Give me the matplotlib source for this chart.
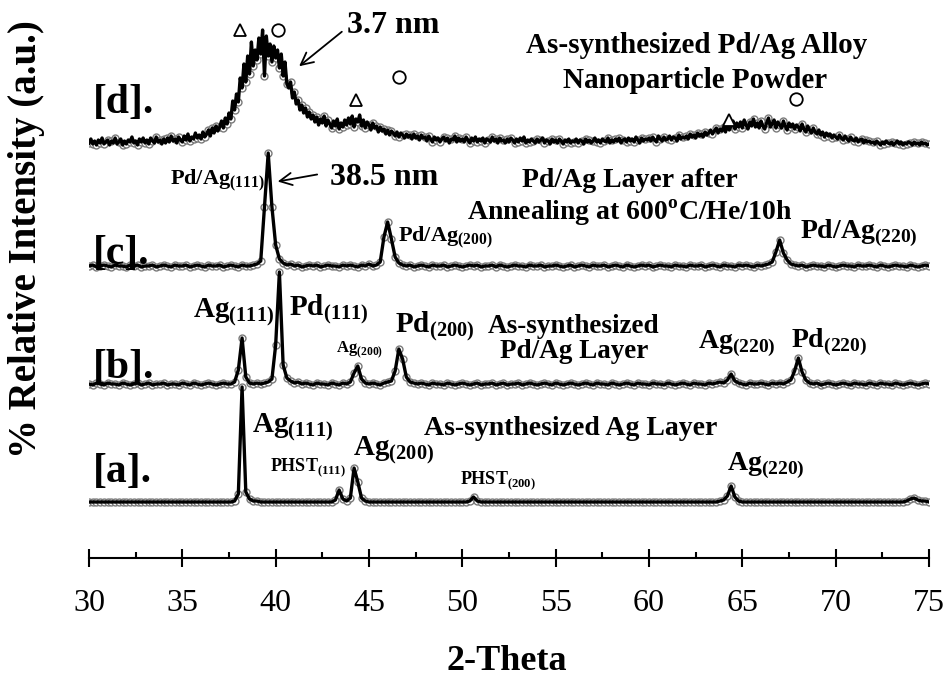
import numpy as np
import matplotlib
matplotlib.use("Agg")
import matplotlib.pyplot as plt

plt.rcParams["font.family"] = ["Liberation Serif", "DejaVu Serif"]
plt.rcParams["mathtext.fontset"] = "custom"
plt.rcParams["mathtext.rm"] = "Liberation Serif:bold"
plt.rcParams["mathtext.bf"] = "Liberation Serif:bold"

# 2-theta scans: layers at 0.2 deg step, powder at 0.1 deg step
two_theta = np.round(np.arange(30.0, 75.0001, 0.2), 1)
two_theta_fine = np.round(np.arange(30.0, 75.0001, 0.1), 1)

# [a] as-synthesized Ag layer
int_a = [
    0, 0, 0, 0, 0, 0, 0, 0, 0, 0,
    0, 0, 0, 0, 0, 0, 0, 0, 0, 0,
    0, 0, 0, 0, 0, 0, 0, 0, 0, 0,
    0, 0, 0, 0, 0, 0, 0, 0, 0, 1,
    8, 115, 10, 3, 1, 1, 0, 0, 0, 0,
    0, 0, 0, 0, 0, 0, 0, 0, 0, 0,
    0, 0, 0, 0, 0, 0, 2, 12, 3, 1,
    4, 34, 20, 4, 1, 0, 0, 0, 0, 0,
    0, 0, 0, 0, 0, 0, 0, 0, 0, 0,
    0, 0, 0, 0, 0, 0, 0, 0, 0, 0,
    0, 0, 1, 5, 1, 0, 0, 0, 0, 0,
    0, 0, 0, 0, 0, 0, 0, 0, 0, 0,
    0, 0, 0, 0, 0, 0, 0, 0, 0, 0,
    0, 0, 0, 0, 0, 0, 0, 0, 0, 0,
    0, 0, 0, 0, 0, 0, 0, 0, 0, 0,
    0, 0, 0, 0, 0, 0, 0, 0, 0, 0,
    0, 0, 0, 0, 0, 0, 0, 0, 0, 1,
    2, 6, 16, 5, 1, 0, 0, 0, 0, 0,
    0, 0, 0, 0, 0, 0, 0, 0, 0, 0,
    0, 0, 0, 0, 0, 0, 0, 0, 0, 0,
    0, 0, 0, 0, 0, 0, 0, 0, 0, 0,
    0, 0, 0, 0, 0, 0, 0, 0, 0, 1,
    3, 4, 2, 1, 1, 0,
]

# [b] as-synthesized Pd/Ag layer
int_b = [
    1, 0, 2, 1, 0, 2, 1, 1, 0, 2,
    1, 0, 1, 2, 0, 1, 2, 0, 1, 1,
    2, 0, 1, 1, 0, 2, 1, 0, 2, 1,
    0, 1, 2, 1, 0, 1, 2, 1, 1, 3,
    15, 47, 8, 2, 1, 2, 1, 2, 3, 6,
    40, 113, 20, 7, 4, 2, 3, 1, 2, 1,
    0, 2, 1, 1, 0, 2, 1, 0, 2, 1,
    3, 12, 19, 6, 2, 1, 2, 1, 0, 2,
    3, 4, 14, 36, 26, 8, 3, 2, 1, 2,
    1, 0, 2, 1, 1, 0, 2, 1, 0, 1,
    2, 1, 0, 1, 2, 0, 1, 1, 2, 0,
    1, 2, 0, 1, 1, 2, 0, 1, 2, 1,
    0, 1, 2, 1, 0, 2, 1, 0, 1, 2,
    1, 0, 1, 2, 1, 0, 2, 1, 1, 0,
    2, 1, 0, 1, 2, 1, 0, 2, 1, 1,
    0, 2, 1, 1, 0, 2, 1, 0, 1, 2,
    1, 0, 2, 1, 1, 0, 2, 1, 2, 3,
    2, 5, 11, 4, 2, 1, 0, 2, 1, 1,
    2, 1, 0, 2, 1, 2, 1, 3, 5, 14,
    27, 13, 5, 2, 1, 2, 0, 1, 2, 1,
    0, 1, 2, 1, 0, 2, 1, 1, 0, 2,
    1, 0, 2, 1, 1, 0, 2, 1, 0, 1,
    2, 1, 0, 1, 2, 1,
]

# [c] Pd/Ag layer after annealing
int_c = [
    1, 2, 0, 1, 2, 1, 0, 2, 1, 1,
    0, 2, 1, 2, 0, 1, 1, 2, 0, 1,
    2, 1, 0, 2, 1, 1, 2, 0, 1, 2,
    1, 0, 2, 1, 1, 2, 0, 1, 2, 1,
    0, 2, 1, 1, 2, 3, 6, 60, 114, 60,
    22, 8, 4, 2, 3, 1, 2, 0, 1, 2,
    1, 2, 0, 1, 2, 1, 1, 0, 2, 1,
    2, 1, 0, 2, 1, 3, 1, 2, 5, 30,
    45, 28, 10, 4, 2, 1, 2, 0, 1, 2,
    1, 0, 2, 1, 1, 2, 0, 1, 2, 1,
    0, 1, 2, 1, 2, 0, 1, 1, 2, 0,
    2, 1, 0, 1, 2, 1, 1, 0, 2, 1,
    1, 2, 0, 1, 1, 2, 1, 0, 1, 2,
    0, 1, 2, 1, 0, 2, 1, 1, 2, 0,
    1, 2, 1, 0, 2, 1, 0, 1, 2, 1,
    2, 0, 1, 2, 1, 1, 0, 2, 1, 1,
    0, 2, 1, 1, 2, 0, 1, 2, 1, 0,
    2, 1, 1, 0, 2, 1, 2, 1, 0, 2,
    1, 2, 3, 5, 15, 27, 14, 7, 3, 2,
    1, 2, 0, 1, 2, 1, 1, 0, 2, 1,
    0, 1, 2, 1, 1, 0, 2, 1, 1, 2,
    1, 0, 2, 1, 0, 1, 2, 1, 1, 0,
    2, 1, 0, 1, 2, 1,
]

# [d] as-synthesized Pd/Ag alloy nanoparticle powder (0.1 deg step)
int_d = [
    3, 7, 2, 5, 1, 6, 3, 8, 2, 4,
    6, 1, 5, 3, 8, 2, 4, 7, 1, 5,
    2, 6, 4, 9, 3, 5, 1, 7, 4, 8,
    3, 6, 2, 8, 5, 3, 9, 4, 6, 2,
    7, 3, 8, 4, 10, 5, 7, 3, 9, 6,
    4, 10, 6, 12, 5, 9, 7, 13, 8, 11,
    7, 14, 9, 12, 16, 10, 18, 13, 20, 15,
    19, 25, 18, 28, 22, 33, 27, 45, 36, 52,
    44, 68, 58, 82, 64, 90, 72, 104, 80, 96,
    86, 108, 92, 116, 70, 110, 90, 102, 84, 100,
    88, 96, 78, 92, 70, 84, 62, 58, 64, 48,
    54, 42, 46, 36, 41, 33, 38, 29, 34, 27,
    31, 24, 29, 21, 27, 23, 30, 20, 26, 22,
    18, 25, 20, 27, 17, 23, 19, 26, 21, 28,
    22, 30, 19, 27, 24, 31, 20, 26, 18, 24,
    21, 16, 23, 18, 20, 14, 19, 15, 17, 12,
    16, 11, 15, 13, 10, 14, 9, 13, 11, 8,
    12, 9, 11, 7, 12, 8, 10, 6, 11, 8,
    9, 5, 10, 7, 4, 9, 6, 8, 4, 7,
    9, 5, 8, 3, 7, 6, 10, 4, 8, 5,
    7, 4, 9, 6, 3, 8, 5, 9, 4, 7,
    5, 8, 3, 7, 6, 4, 9, 5, 7, 3,
    8, 5, 6, 3, 7, 4, 8, 6, 3, 7,
    4, 8, 5, 9, 3, 6, 4, 7, 5, 3,
    7, 4, 6, 8, 3, 6, 5, 2, 7, 4,
    6, 3, 7, 5, 2, 6, 4, 7, 3, 5,
    4, 7, 3, 6, 5, 2, 7, 4, 6, 3,
    5, 8, 4, 6, 3, 7, 5, 4, 8, 3,
    6, 4, 7, 5, 8, 3, 6, 7, 4, 8,
    5, 7, 4, 9, 6, 3, 8, 5, 7, 6,
    8, 5, 9, 6, 4, 10, 7, 5, 9, 6,
    7, 10, 6, 9, 8, 5, 11, 7, 9, 8,
    10, 7, 12, 9, 11, 8, 13, 10, 12, 9,
    14, 11, 13, 16, 12, 15, 18, 13, 17, 15,
    19, 14, 22, 16, 20, 25, 17, 23, 19, 24,
    18, 26, 21, 17, 24, 20, 27, 19, 23, 18,
    25, 20, 17, 23, 28, 19, 22, 26, 18, 24,
    21, 18, 25, 20, 16, 23, 19, 22, 17, 21,
    19, 15, 22, 17, 14, 20, 16, 13, 18, 14,
    12, 16, 11, 14, 9, 13, 10, 12, 8, 11,
    9, 7, 11, 8, 6, 10, 7, 5, 9, 6,
    5, 8, 4, 6, 7, 3, 6, 4, 5, 3,
    4, 2, 5, 3, 1, 4, 2, 5, 3, 2,
    4, 1, 3, 5, 2, 4, 1, 3, 2, 4,
    3, 1, 4, 2, 3, 1, 4, 2, 3, 1,
    2,
]

scans = [
    (two_theta, int_a, 56, 1),
    (two_theta, int_b, 173, 1),
    (two_theta, int_c, 291, 1),
    (two_theta_fine, int_d, 412, 2),
]
panel_tags = ["[a].", "[b].", "[c].", "[d]."]
tag_y = [86, 190, 304, 455]

# reference peak positions marked above [d]: Ag (triangles), Pd (circles)
ag_ref_theta = [38.1, 44.3, 64.3]
ag_ref_height = [528, 458, 438]
pd_ref_theta = [40.1, 46.6, 67.9]
pd_ref_height = [528, 481, 459]

fig = plt.figure(figsize=(9.46, 6.81), dpi=100)
ax = fig.add_axes([89 / 946, 123 / 681, 840 / 946, 558 / 681])

for x, vals, off, every in scans:
    y = np.array(vals, dtype=float) + off
    ax.plot(x, y, linestyle="none", marker="o", ms=5, markevery=every,
            mfc="white", mec="#7a7a7a", mew=1.0, zorder=2)
    ax.plot(x, y, color="black", lw=2.4, zorder=3)

ax.plot(ag_ref_theta, ag_ref_height, linestyle="none", marker="^", ms=8,
        mfc="white", mec="black", mew=1.3, zorder=4)
ax.plot(pd_ref_theta, pd_ref_height, linestyle="none", marker="o", ms=9,
        mfc="white", mec="black", mew=1.3, zorder=4)

ax.set_xlim(30, 75)
ax.set_ylim(0, 558)
for side in ["left", "right", "top"]:
    ax.spines[side].set_visible(False)
ax.spines["bottom"].set_linewidth(1.5)
ax.set_yticks([])
ax.set_xticks(np.arange(30, 76, 5))
ax.set_xticks(np.arange(32.5, 75, 5), minor=True)
ax.tick_params(axis="x", which="major", direction="inout", length=13,
               width=1.5, pad=16, labelsize=23)
ax.tick_params(axis="x", which="minor", direction="in", length=4.5, width=1.5)

bold = dict(fontweight="bold", color="black")

for tag, ty in zip(panel_tags, tag_y):
    ax.text(30.2, ty, tag, fontsize=30, ha="left", va="center", **bold)

# peak labels
ax.text(38.73, 126, r"Ag$_{(111)}$", fontsize=21, **bold)
ax.text(39.70, 88, r"PHST$_{(111)}$", fontsize=13, **bold)
ax.text(44.14, 103, r"Ag$_{(200)}$", fontsize=21, **bold)
ax.text(49.88, 75, r"PHST$_{(200)}$", fontsize=13, **bold)
ax.text(47.95, 123, "As-synthesized Ag Layer", fontsize=20, **bold)
ax.text(64.18, 88, r"Ag$_{(220)}$", fontsize=20, **bold)

ax.text(35.57, 241, r"Ag$_{(111)}$", fontsize=21, **bold)
ax.text(40.71, 243, r"Pd$_{(111)}$", fontsize=21, **bold)
ax.text(43.23, 206, r"Ag$_{(200)}$", fontsize=12, **bold)
ax.text(46.39, 226, r"Pd$_{(200)}$", fontsize=21, **bold)
ax.text(55.98, 225, "As-synthesized", fontsize=19.5, ha="center", **bold)
ax.text(55.98, 200, "Pd/Ag Layer", fontsize=19.5, ha="center", **bold)
ax.text(62.62, 210, r"Ag$_{(220)}$", fontsize=20, **bold)
ax.text(67.61, 211, r"Pd$_{(220)}$", fontsize=20, **bold)

ax.text(34.34, 373, r"Pd/Ag$_{(111)}$", fontsize=16, **bold)
ax.text(42.91, 373, "38.5 nm", fontsize=23, **bold)
ax.annotate("", xy=(39.96, 376), xytext=(42.37, 384),
            arrowprops=dict(arrowstyle="->", lw=1.3, mutation_scale=22))
ax.text(58.98, 371, "Pd/Ag Layer after", fontsize=20, ha="center", **bold)
ax.text(58.98, 338, r"Annealing at 600$^{\mathrm{o}}$C/He/10h", fontsize=20,
        ha="center", **bold)
ax.text(46.55, 316, r"Pd/Ag$_{(200)}$", fontsize=16, **bold)
ax.text(68.09, 320, r"Pd/Ag$_{(220)}$", fontsize=20, **bold)

ax.text(43.82, 525, "3.7 nm", fontsize=23, **bold)
ax.annotate("", xy=(41.14, 490), xytext=(43.66, 528),
            arrowprops=dict(arrowstyle="->", lw=1.3, mutation_scale=22))
ax.text(62.57, 505, "As-synthesized Pd/Ag Alloy", fontsize=21, ha="center", **bold)
ax.text(62.46, 470, "Nanoparticle Powder", fontsize=21, ha="center", **bold)

fig.text(507 / 946, 1 - 662 / 681, "2-Theta", fontsize=26, ha="center",
         va="center", **bold)
fig.text(27 / 946, 1 - 239 / 681, "% Relative Intensity (a.u.)", fontsize=28,
         rotation=90, ha="center", va="center", **bold)

fig.savefig("out.png", dpi=100)
